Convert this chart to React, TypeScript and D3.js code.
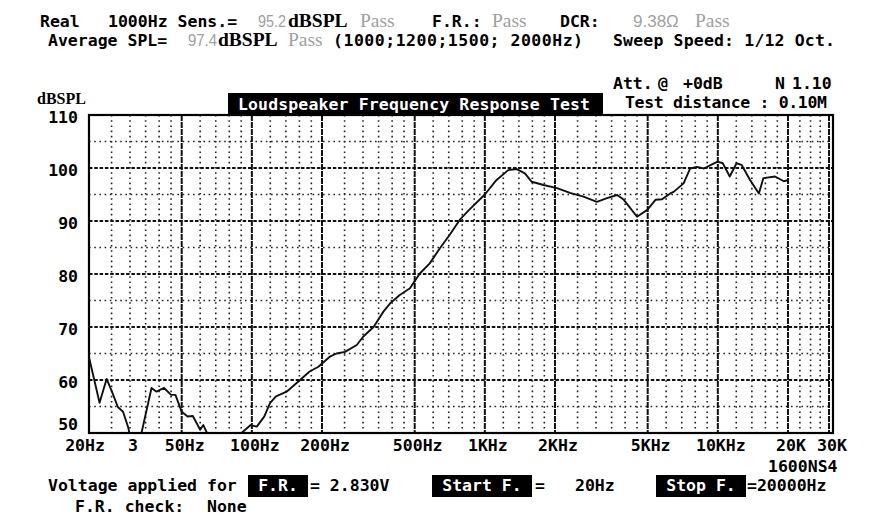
import * as d3 from "d3";

const freqs = [
  20, 22.2, 23.8, 25, 26.6, 28, 29.5, 31, 32.5, 33.6, 37.1, 39, 42, 45, 47, 50, 53, 55.8, 60, 61.9, 65, 68,
  80, 88, 90.3, 98.8, 105, 113, 119.8, 127, 141, 161, 177, 193, 216, 231, 251, 282, 301, 333, 367, 393,
  430, 477, 526, 580, 640, 707, 780, 856, 1000, 1120, 1260, 1370, 1486, 1590, 1785, 2040, 2320, 2650,
  3025, 3345, 3700, 3950, 4500, 4980, 5400, 5760, 6250, 6460, 7130, 7600, 8130, 8720, 9340, 9980,
  10500, 11250, 12030, 12640, 13770, 15000, 15690, 17600, 19200, 20000,
];
const spl = [
  64.3, 55.7, 60.2, 58, 54.9, 54, 51, 46, 46, 50, 58.5, 57.8, 58.5, 57.2, 57.2, 54, 53.1, 53.2, 50.6, 51.5,
  49.5, 46, 45, 47, 50, 51.5, 51.2, 53.1, 55.7, 56.9, 57.8, 60, 61.6, 62.5, 64.4, 65, 65.3, 66.6, 68.2,
  70, 72.9, 74.5, 76, 77.3, 80.1, 82, 84.8, 87.4, 90.2, 92.1, 95.0, 97.7, 99.6, 99.8, 99, 97.4, 96.8,
  96.2, 95.3, 94.6, 93.6, 94.3, 94.9, 94, 90.8, 92.1, 94, 94.1, 95.2, 95.5, 97.1, 99.9, 100.2, 99.9,
  100.6, 101.2, 100.9, 98.4, 100.9, 100.6, 97.7, 95.2, 98.1, 98.4, 97.5, 97.7,
];

const yTicks = [110, 100, 90, 80, 70, 60, 50];
const yMajorGrid = [100, 90, 80, 70, 60];
const yMinorGrid = [105, 95, 85, 75, 65, 55];

const xTickValues = [20, 30, 50, 100, 200, 500, 1000, 2000, 5000, 10000, 20000, 30000];
const xTickLabels = ["20Hz", "3", "50Hz", "100Hz", "200Hz", "500Hz", "1KHz", "2KHz", "5KHz", "10KHz", "20K", "30K"];
const xMajorGrid = [50, 100, 200, 500, 1000, 2000, 5000, 10000, 20000, 30000];
const xMinorGrid = [
  25, 30, 35, 40, 45, 60, 70, 80, 90, 120, 140, 160, 180, 250, 300, 350, 400, 450, 600, 700, 800, 900,
  1200, 1400, 1600, 1800, 2500, 3000, 3500, 4000, 4500, 6000, 7000, 8000, 9000, 12000, 14000, 16000,
  18000, 22500, 25000, 27500,
];

const W = 880;
const H = 524;
const plot = { left: 89, right: 833, top: 115, bottom: 433 };

const MONO = "'DejaVu Sans Mono', monospace";
const SERIF = "'Liberation Serif', serif";
const SANS = "'Liberation Sans', sans-serif";
const GRAY = "#a0a0a0";

const App = () => {
  const x = d3.scaleLog().domain([20, 30000]).range([plot.left, 829]);
  const y = d3.scaleLinear().domain([50, 110]).range([plot.bottom, plot.top]);

  const line = d3
    .line<number>()
    .x((d) => x(d))
    .y((_, i) => y(spl[i]))
    .curve(d3.curveLinear);

  const mono = { fontFamily: MONO, fontWeight: 700, fontSize: 16.5 } as const;
  const serifB = { fontFamily: SERIF, fontWeight: 700, fontSize: 19.5 } as const;
  const pass = { fontFamily: SERIF, fontSize: 19.5, fill: GRAY } as const;
  const grayNum = { fontFamily: SANS, fontSize: 17, fill: GRAY } as const;

  return (
    <svg
      width={W}
      height={H}
      viewBox={`0 0 ${W} ${H}`}
      style={{ position: "absolute", left: 0, top: 0, background: "#fff" }}
    >
      <defs>
        <clipPath id="plotclip">
          <rect x={plot.left} y={plot.top} width={plot.right - plot.left} height={plot.bottom - plot.top} />
        </clipPath>
      </defs>

      {/* header */}
      <g>
        <text x={40} y={27} {...mono}>Real</text>
        <text x={108} y={27} {...mono}>1000Hz Sens.=</text>
        <text x={258} y={27} {...grayNum} textLength={28} lengthAdjust="spacingAndGlyphs">95.2</text>
        <text x={288} y={27} {...serifB}>dBSPL</text>
        <text x={360} y={27} {...pass}>Pass</text>
        <text x={432} y={27} {...mono}>F.R.:</text>
        <text x={492} y={27} {...pass}>Pass</text>
        <text x={560} y={27} {...mono}>DCR:</text>
        <text x={633} y={27} {...grayNum}>9.38Ω</text>
        <text x={695} y={27} {...pass}>Pass</text>

        <text x={48} y={46} {...mono}>Average SPL=</text>
        <text x={188} y={46} {...grayNum} textLength={29} lengthAdjust="spacingAndGlyphs">97.4</text>
        <text x={218} y={46} {...serifB}>dBSPL</text>
        <text x={288} y={46} {...pass}>Pass</text>
        <text x={333} y={46} {...mono} textLength={250} lengthAdjust="spacing">(1000;1200;1500; 2000Hz)</text>
        <text x={613} y={46} {...mono} textLength={222} lengthAdjust="spacing">Sweep Speed: 1/12 Oct.</text>

        <text x={613} y={89} {...mono}>Att.</text>
        <text x={658} y={89} {...mono}>@</text>
        <text x={683} y={89} {...mono}>+0dB</text>
        <text x={775} y={89} {...mono}>N</text>
        <text x={792} y={89} {...mono}>1.10</text>

        <text x={37} y={104} fontFamily={SERIF} fontWeight={700} fontSize={16}>dBSPL</text>
        <rect x={228} y={93} width={375} height={21} fill="#000" />
        <text x={238} y={110} {...mono} fill="#fff" textLength={352} lengthAdjust="spacing">
          Loudspeaker Frequency Response Test
        </text>
        <text x={625} y={108} {...mono} textLength={202} lengthAdjust="spacing">Test distance : 0.10M</text>
      </g>

      {/* grid */}
      <g>
        {yMinorGrid.map((v) => (
          <line key={"hy" + v} x1={plot.left} x2={plot.right} y1={y(v)} y2={y(v)}
            stroke="#222" strokeWidth={1.6} strokeDasharray="1.6,3.6" />
        ))}
        {xMinorGrid.map((f) => (
          <line key={"vx" + f} x1={x(f)} x2={x(f)} y1={plot.top} y2={plot.bottom}
            stroke="#222" strokeWidth={1.6} strokeDasharray="1.6,3.6" />
        ))}
        {yMajorGrid.map((v) => (
          <line key={"HY" + v} x1={plot.left} x2={plot.right} y1={y(v)} y2={y(v)}
            stroke="#111" strokeWidth={2.2} strokeDasharray="3.5,1.8" />
        ))}
        {xMajorGrid.map((f) => (
          <line key={"VX" + f} x1={x(f)} x2={x(f)} y1={plot.top} y2={plot.bottom}
            stroke="#111" strokeWidth={2} strokeDasharray="6,1" />
        ))}
      </g>

      {/* response curve */}
      <path d={line(freqs) ?? ""} fill="none" stroke="#111" strokeWidth={1.9}
        strokeLinejoin="round" clipPath="url(#plotclip)" />

      <rect x={plot.left} y={plot.top} width={plot.right - plot.left} height={plot.bottom - plot.top}
        fill="none" stroke="#000" strokeWidth={2.2} />

      {/* y labels */}
      {yTicks.map((v) => (
        <text key={"yl" + v} x={78} y={Math.min(y(v) + 3, plot.bottom - 8)} {...mono}
          textAnchor="end" dominantBaseline="middle">{v}</text>
      ))}

      {/* x labels */}
      {xTickValues.map((f, i) => (
        <text key={"xl" + f} x={x(f) + (i === 0 ? -4 : 3)} y={451} {...mono} textAnchor="middle">{xTickLabels[i]}</text>
      ))}

      <text x={768} y={472} {...mono}>1600NS4</text>

      {/* footer */}
      <g>
        <text x={48} y={491} {...mono}>Voltage applied for</text>
        <rect x={248} y={475} width={60} height={22} fill="#000" />
        <text x={278} y={491} {...mono} fill="#fff" textAnchor="middle">F.R.</text>
        <text x={310} y={491} {...mono}>= 2.830V</text>
        <rect x={432} y={475} width={100} height={22} fill="#000" />
        <text x={482} y={491} {...mono} fill="#fff" textAnchor="middle">Start F.</text>
        <text x={535} y={491} {...mono}>=</text>
        <text x={575} y={491} {...mono}>20Hz</text>
        <rect x={656} y={475} width={90} height={22} fill="#000" />
        <text x={701} y={491} {...mono} fill="#fff" textAnchor="middle">Stop F.</text>
        <text x={747} y={491} {...mono}>=20000Hz</text>
        <text x={75} y={512} {...mono}>F.R. check:</text>
        <text x={207} y={512} {...mono}>None</text>
      </g>
    </svg>
  );
};

export default App;
